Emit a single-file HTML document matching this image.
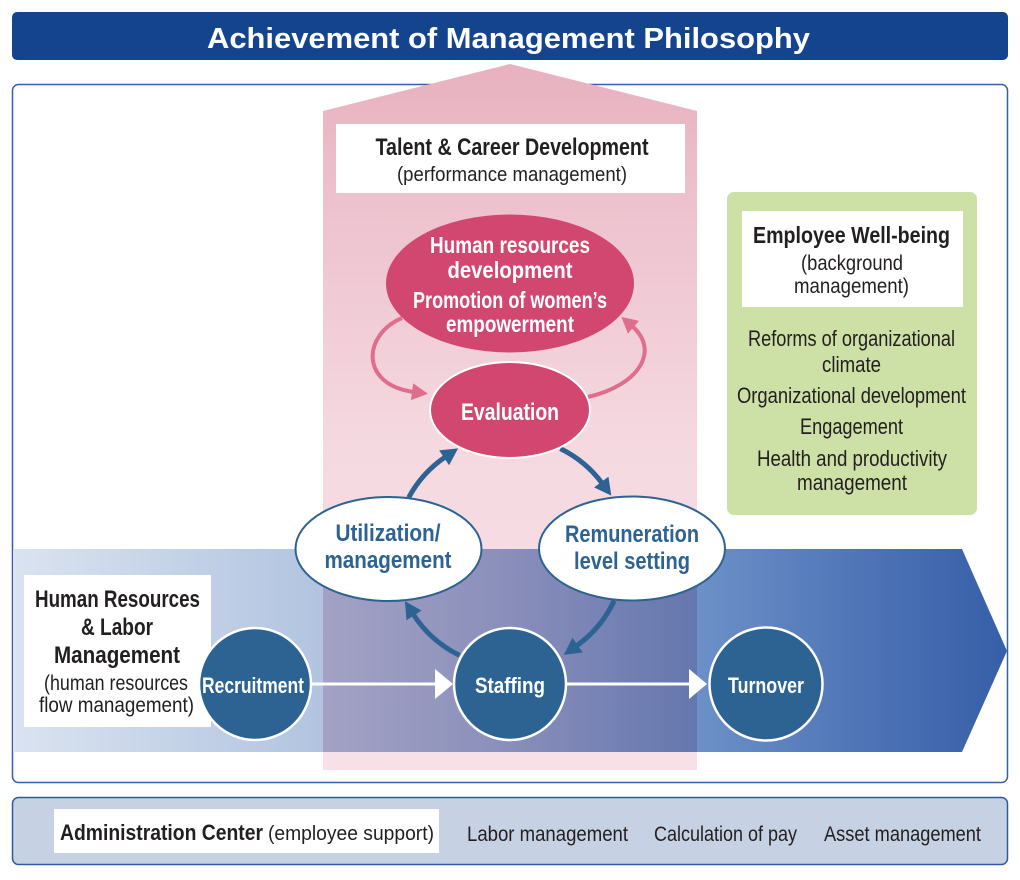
<!DOCTYPE html>
<html><head><meta charset="utf-8">
<style>
html,body{margin:0;padding:0;background:#fff;}
svg{display:block;}
text{font-family:"Liberation Sans Narrow","Liberation Sans",sans-serif;}
.b{font-weight:bold;}
</style></head>
<body>
<svg width="1020" height="880" viewBox="0 0 1020 880" xmlns="http://www.w3.org/2000/svg">
<defs>
  <linearGradient id="pinkg" x1="0" y1="64" x2="0" y2="770" gradientUnits="userSpaceOnUse">
    <stop offset="0" stop-color="#e8b1bf"/>
    <stop offset="0.2" stop-color="#edc2ce"/>
    <stop offset="0.55" stop-color="#f5d9e1"/>
    <stop offset="1" stop-color="#f7e1e7"/>
  </linearGradient>
  <linearGradient id="bandg" x1="13" y1="0" x2="1007" y2="0" gradientUnits="userSpaceOnUse">
    <stop offset="0" stop-color="#dae3f0"/>
    <stop offset="0.2" stop-color="#c0cfe6"/>
    <stop offset="0.31" stop-color="#b2c4e0"/>
    <stop offset="0.5" stop-color="#96acd5"/>
    <stop offset="0.7" stop-color="#6a8ec6"/>
    <stop offset="0.88" stop-color="#4b70b4"/>
    <stop offset="1" stop-color="#365fa8"/>
  </linearGradient>
  <marker id="bh" markerUnits="userSpaceOnUse" markerWidth="20" markerHeight="20" refX="2" refY="9" orient="auto">
    <path d="M0,0 L17,9 L0,18 Z" fill="#2d6393"/>
  </marker>
  <marker id="ph" markerUnits="userSpaceOnUse" markerWidth="20" markerHeight="20" refX="2" refY="8.5" orient="auto">
    <path d="M0,0 L16,8.5 L0,17 Z" fill="#df6d8d"/>
  </marker>
</defs>

<!-- title bar -->
<rect x="12" y="12" width="996" height="48" rx="5" fill="#15448f"/>
<text x="508.5" y="48" text-anchor="middle" class="b" font-size="29" fill="#fff" textLength="603" lengthAdjust="spacingAndGlyphs">Achievement of Management Philosophy</text>

<!-- main panel -->
<rect x="12.5" y="84.5" width="995" height="698" rx="6" fill="#fff" stroke="#3561a2" stroke-width="1.5"/>

<!-- pink column -->
<path d="M323,111 L510,64 L697,111 L697,770 L323,770 Z" fill="url(#pinkg)"/>

<!-- band -->
<path d="M13,549 L962,549 L1007,651 L962,752 L13,752 Z" fill="url(#bandg)"/>
<rect x="323" y="549" width="374" height="203" fill="#ead3e0" style="mix-blend-mode:multiply"/>

<!-- talent box -->
<rect x="336" y="124" width="349" height="69" fill="#fff"/>
<text x="512" y="155" text-anchor="middle" class="b" font-size="24" fill="#231f20" textLength="273" lengthAdjust="spacingAndGlyphs">Talent &amp; Career Development</text>
<text x="512" y="181" text-anchor="middle" font-size="20" fill="#231f20" textLength="230" lengthAdjust="spacingAndGlyphs">(performance management)</text>

<!-- green box -->
<rect x="727" y="192" width="250" height="323" rx="7" fill="#cde0a6"/>
<rect x="742" y="211" width="221" height="96" fill="#fff"/>
<text x="851.5" y="243" text-anchor="middle" class="b" font-size="23" fill="#231f20" textLength="197" lengthAdjust="spacingAndGlyphs">Employee Well-being</text>
<text x="852" y="270" text-anchor="middle" font-size="21" fill="#231f20" textLength="102" lengthAdjust="spacingAndGlyphs">(background</text>
<text x="851.5" y="293" text-anchor="middle" font-size="21" fill="#231f20" textLength="115" lengthAdjust="spacingAndGlyphs">management)</text>
<text x="851.5" y="346" text-anchor="middle" font-size="22" fill="#231f20" textLength="207" lengthAdjust="spacingAndGlyphs">Reforms of organizational</text>
<text x="851.5" y="372" text-anchor="middle" font-size="22" fill="#231f20" textLength="59" lengthAdjust="spacingAndGlyphs">climate</text>
<text x="851.5" y="403" text-anchor="middle" font-size="22" fill="#231f20" textLength="229" lengthAdjust="spacingAndGlyphs">Organizational development</text>
<text x="851.5" y="434" text-anchor="middle" font-size="22" fill="#231f20" textLength="103" lengthAdjust="spacingAndGlyphs">Engagement</text>
<text x="852" y="466" text-anchor="middle" font-size="22" fill="#231f20" textLength="190" lengthAdjust="spacingAndGlyphs">Health and productivity</text>
<text x="852" y="490" text-anchor="middle" font-size="22" fill="#231f20" textLength="110" lengthAdjust="spacingAndGlyphs">management</text>

<!-- pink cycle arrows -->
<path d="M402,318 C362,335 360,385 414,392" fill="none" stroke="#df6d8d" stroke-width="4" marker-end="url(#ph)"/>
<path d="M588,397 C640,385 660,350 632,326" fill="none" stroke="#df6d8d" stroke-width="4" marker-end="url(#ph)"/>

<!-- blue cycle arrows (circle arcs) -->
<path d="M408.7,497.5 A115,115 0 0 1 445.7,456.7" fill="none" stroke="#2d6393" stroke-width="5" marker-end="url(#bh)"/>
<path d="M560.4,448.6 A115,115 0 0 1 602.4,483.6" fill="none" stroke="#2d6393" stroke-width="5" marker-end="url(#bh)"/>
<path d="M614.2,600.6 A115,115 0 0 1 576,646.2" fill="none" stroke="#2d6393" stroke-width="5" marker-end="url(#bh)"/>
<path d="M459.6,655.4 A115,115 0 0 1 413,613.8" fill="none" stroke="#2d6393" stroke-width="5" marker-end="url(#bh)"/>

<!-- HR development ellipse -->
<ellipse cx="510" cy="283.5" rx="124" ry="69" fill="#d1476f"/>
<text x="510" y="253" text-anchor="middle" class="b" font-size="23" fill="#fff" textLength="160" lengthAdjust="spacingAndGlyphs">Human resources</text>
<text x="510" y="278" text-anchor="middle" class="b" font-size="23" fill="#fff" textLength="125" lengthAdjust="spacingAndGlyphs">development</text>
<text x="510" y="308" text-anchor="middle" class="b" font-size="23" fill="#fff" textLength="194" lengthAdjust="spacingAndGlyphs">Promotion of women’s</text>
<text x="510" y="332" text-anchor="middle" class="b" font-size="23" fill="#fff" textLength="128" lengthAdjust="spacingAndGlyphs">empowerment</text>

<!-- Evaluation -->
<ellipse cx="510" cy="410" rx="80" ry="48" fill="#d1476f" stroke="#fff" stroke-width="2"/>
<text x="510" y="420" text-anchor="middle" class="b" font-size="24" fill="#fff" textLength="98" lengthAdjust="spacingAndGlyphs">Evaluation</text>

<!-- Utilization -->
<ellipse cx="388.5" cy="549" rx="93" ry="52" fill="#fff" stroke="#2d6393" stroke-width="2"/>
<text x="388" y="541" text-anchor="middle" class="b" font-size="24" fill="#2d6393" textLength="105" lengthAdjust="spacingAndGlyphs">Utilization/</text>
<text x="388" y="568" text-anchor="middle" class="b" font-size="24" fill="#2d6393" textLength="127" lengthAdjust="spacingAndGlyphs">management</text>

<!-- Remuneration -->
<ellipse cx="632" cy="548.5" rx="93" ry="52" fill="#fff" stroke="#2d6393" stroke-width="2"/>
<text x="632" y="542" text-anchor="middle" class="b" font-size="24" fill="#2d6393" textLength="134" lengthAdjust="spacingAndGlyphs">Remuneration</text>
<text x="632" y="569" text-anchor="middle" class="b" font-size="24" fill="#2d6393" textLength="116" lengthAdjust="spacingAndGlyphs">level setting</text>

<!-- HR & Labor box -->
<rect x="24" y="575" width="187" height="152" fill="#fff"/>
<text x="117.5" y="607" text-anchor="middle" class="b" font-size="24" fill="#231f20" textLength="165" lengthAdjust="spacingAndGlyphs">Human Resources</text>
<text x="117" y="635" text-anchor="middle" class="b" font-size="24" fill="#231f20" textLength="72" lengthAdjust="spacingAndGlyphs">&amp; Labor</text>
<text x="117" y="663" text-anchor="middle" class="b" font-size="24" fill="#231f20" textLength="126" lengthAdjust="spacingAndGlyphs">Management</text>
<text x="116" y="690" text-anchor="middle" font-size="21" fill="#231f20" textLength="144" lengthAdjust="spacingAndGlyphs">(human resources</text>
<text x="116.5" y="712" text-anchor="middle" font-size="21" fill="#231f20" textLength="155" lengthAdjust="spacingAndGlyphs">flow management)</text>

<!-- white flow arrows -->
<line x1="310" y1="684" x2="437" y2="684" stroke="#fff" stroke-width="3"/>
<polygon points="435,669 453,684 435,699" fill="#fff"/>
<line x1="566" y1="684" x2="691" y2="684" stroke="#fff" stroke-width="3"/>
<polygon points="689,669 707,684 689,699" fill="#fff"/>

<!-- circles -->
<circle cx="255" cy="684" r="56" fill="#2d6393" stroke="#fff" stroke-width="2.5"/>
<text x="253" y="693" text-anchor="middle" class="b" font-size="22" fill="#fff" textLength="102" lengthAdjust="spacingAndGlyphs">Recruitment</text>
<circle cx="510" cy="684" r="56" fill="#2d6393" stroke="#fff" stroke-width="2.5"/>
<text x="510" y="693" text-anchor="middle" class="b" font-size="22" fill="#fff" textLength="70" lengthAdjust="spacingAndGlyphs">Staffing</text>
<circle cx="766" cy="684" r="56.5" fill="#2d6393" stroke="#fff" stroke-width="2.5"/>
<text x="766" y="693" text-anchor="middle" class="b" font-size="22" fill="#fff" textLength="76" lengthAdjust="spacingAndGlyphs">Turnover</text>

<!-- bottom bar -->
<rect x="12.5" y="797.5" width="995" height="67" rx="6" fill="#c6d1e3" stroke="#2f5b9c" stroke-width="1.5"/>
<rect x="54" y="809" width="385" height="44" fill="#fff"/>
<text x="60" y="840" class="b" font-size="22" fill="#231f20" textLength="203" lengthAdjust="spacingAndGlyphs">Administration Center</text>
<text x="268" y="840" font-size="20" fill="#231f20" textLength="166" lengthAdjust="spacingAndGlyphs">(employee support)</text>
<text x="467" y="841" font-size="21" fill="#231f20" textLength="161" lengthAdjust="spacingAndGlyphs">Labor management</text>
<text x="654" y="841" font-size="21" fill="#231f20" textLength="143" lengthAdjust="spacingAndGlyphs">Calculation of pay</text>
<text x="824" y="841" font-size="21" fill="#231f20" textLength="157" lengthAdjust="spacingAndGlyphs">Asset management</text>
</svg>
</body></html>
